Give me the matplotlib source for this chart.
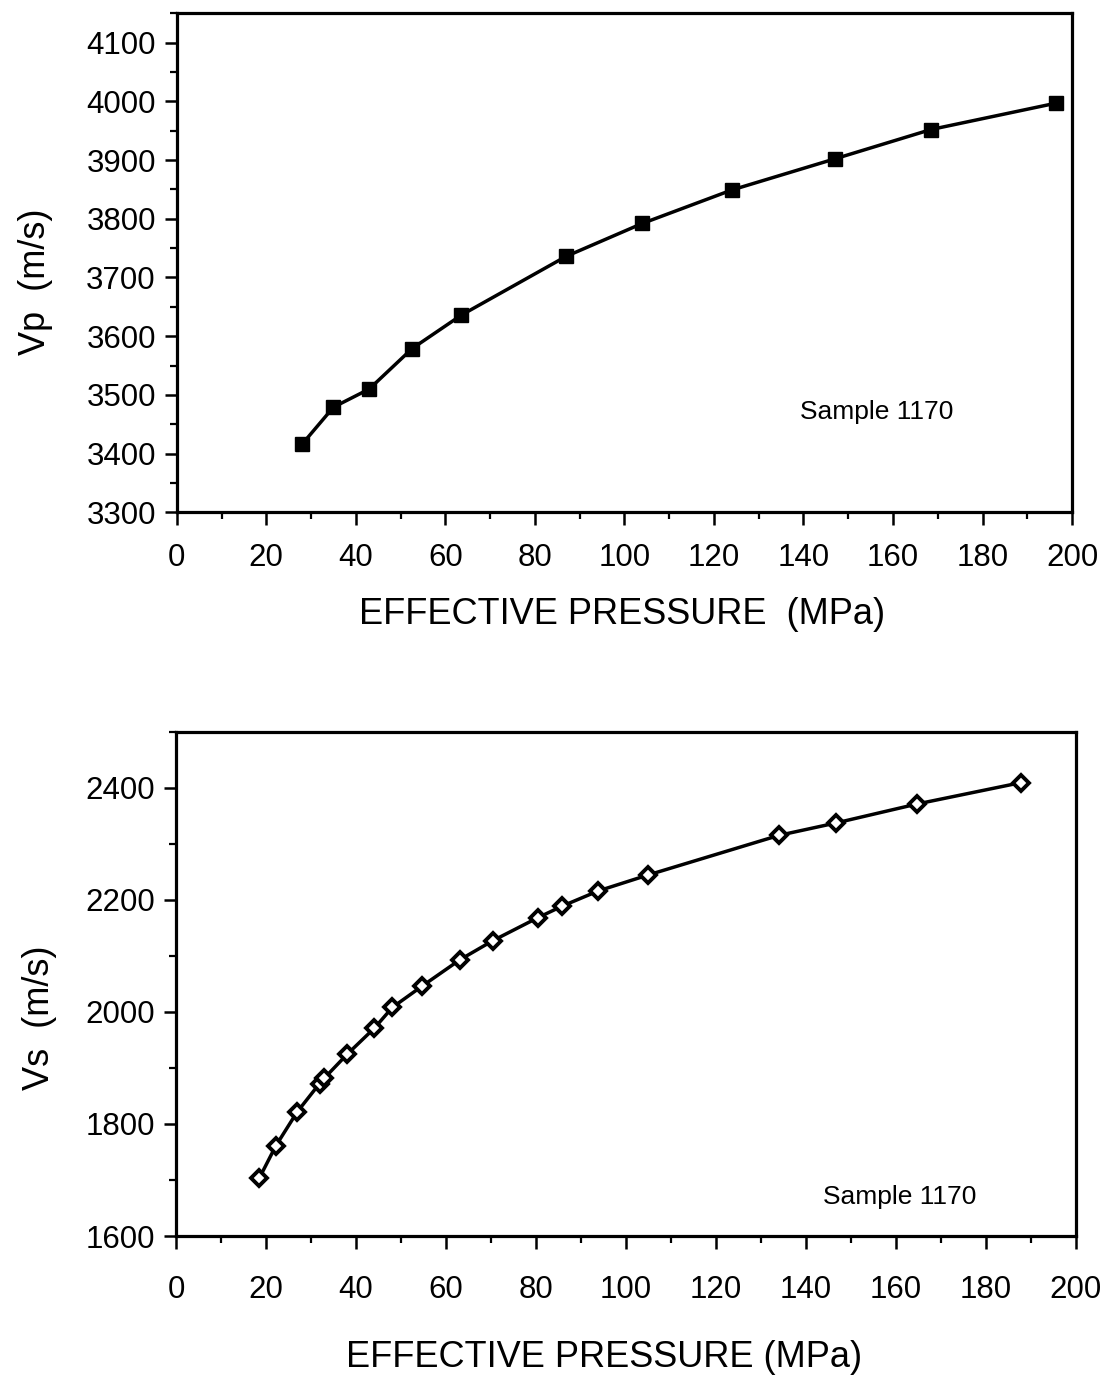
import matplotlib
matplotlib.use("Agg")
import matplotlib.pyplot as plt
from matplotlib.ticker import MultipleLocator

# ---- data ----
vp_pressure = [28, 35, 43, 52.6, 63.6, 87, 104, 124, 147, 168.5, 196.5]
vp_velocity = [3416, 3479, 3510, 3579, 3636, 3736, 3792, 3849, 3902, 3952, 3997]

vs_pressure = [18.5, 22.2, 26.9, 31.9, 33.0, 38.0, 44.1, 48.1, 54.7, 63.1, 70.4,
               80.4, 85.9, 93.9, 104.8, 134.0, 146.6, 164.7, 187.7]
vs_velocity = [1703, 1761, 1821, 1872, 1882, 1924, 1971, 2008, 2046, 2093, 2127,
               2168, 2189, 2216, 2244, 2315, 2337, 2371, 2409]

x_ticks = list(range(0, 201, 20))
vp_ticks = list(range(3300, 4101, 100))
vs_ticks = list(range(1600, 2401, 200))

sample_label = "Sample 1170"

plt.rcParams['font.family'] = ['Liberation Sans', 'DejaVu Sans']

fig = plt.figure(figsize=(11.06, 13.82), dpi=100)
ax1 = fig.add_axes([0.1598, 0.6293, 0.8095, 0.3611])
ax2 = fig.add_axes([0.1591, 0.10564, 0.8137, 0.3649])


def style(ax, xpad):
    for s in ax.spines.values():
        s.set_linewidth(2.3)
    ax.tick_params(which='major', direction='out', length=9, width=1.8)
    ax.tick_params(which='minor', direction='out', length=5, width=1.6)
    ax.tick_params(axis='x', which='major', labelsize=22.5, pad=xpad)
    ax.tick_params(axis='y', which='major', labelsize=22.5, pad=6)
    ax.xaxis.set_minor_locator(MultipleLocator(10))
    ax.set_xticks(x_ticks)
    ax.set_xlim(0, 200)


# ---- top panel ----
ax1.plot(vp_pressure, vp_velocity, color='black', lw=2.5, marker='s',
         markersize=10, markerfacecolor='black', markeredgecolor='black')
style(ax1, 13)
ax1.set_yticks(vp_ticks)
ax1.yaxis.set_minor_locator(MultipleLocator(50))
ax1.set_ylim(3300, 4150)
ax1.text(0.497, -0.204, "EFFECTIVE PRESSURE  (MPa)", transform=ax1.transAxes,
         ha='center', va='center', fontsize=26)
ax1.text(-0.158, 0.4625, "Vp  (m/s)", transform=ax1.transAxes, rotation=90,
         ha='center', va='center', fontsize=26)
ax1.text(0.782, 0.201, sample_label, transform=ax1.transAxes,
         ha='center', va='center', fontsize=19)

# ---- bottom panel ----
ax2.plot(vs_pressure, vs_velocity, color='black', lw=2.5, marker='D',
         markersize=8.5, markerfacecolor='white', markeredgecolor='black',
         markeredgewidth=2.8)
style(ax2, 19)
ax2.set_yticks(vs_ticks)
ax2.yaxis.set_minor_locator(MultipleLocator(100))
ax2.set_ylim(1600, 2500)
ax2.text(0.4756, -0.240, "EFFECTIVE PRESSURE (MPa)", transform=ax2.transAxes,
         ha='center', va='center', fontsize=26)
ax2.text(-0.152, 0.432, "Vs  (m/s)", transform=ax2.transAxes, rotation=90,
         ha='center', va='center', fontsize=26)
ax2.text(0.804, 0.0773, sample_label, transform=ax2.transAxes,
         ha='center', va='center', fontsize=19)

fig.savefig("out.png", dpi=100, facecolor='white')
